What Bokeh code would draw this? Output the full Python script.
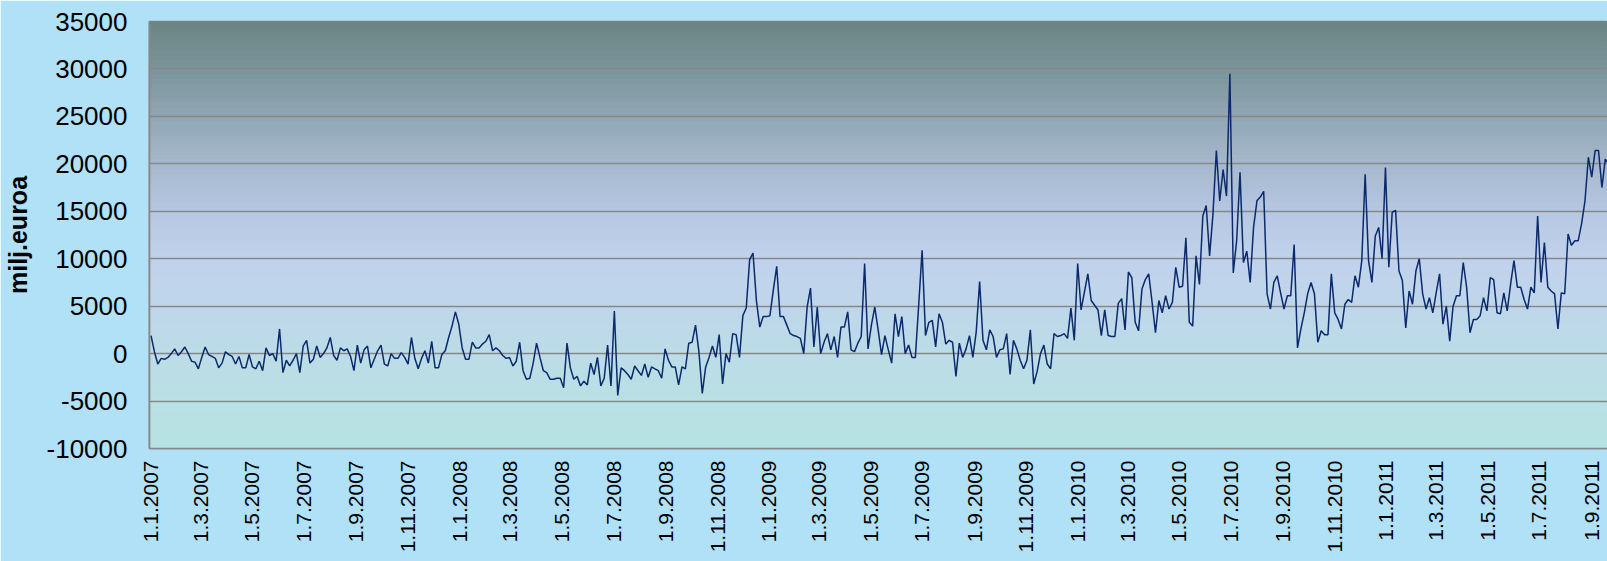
import numpy as np
import pandas as pd
from bokeh.plotting import figure
from bokeh.models import Range1d, FixedTicker, ColumnDataSource
from bokeh.embed import file_html
from bokeh.resources import INLINE

# ---------------- data ----------------
START_DATE = "2007-01-01"
STEP_DAYS = 4
VALUES = [
    # 2007
    1900, 200, -1100, -500, -600, -400, 0, 500, -200, 200,
    700, 0, -800, -900, -1600, -400, 700, -100, -300, -500,
    -1500, -1000, 200, -100, -300, -1100, -300, -1500, -1500, -100,
    -1400, -1600, -800, -1800, 600, -200, 0, -800, 2600, -2000,
    -700, -1300, -700, 0, -2000, 800, 1400, -1000, -600, 800,
    -400, 0, 600, 1700, -200, -700, 600, 300, 500, -300,
    -1800, 900, -1000, 400, 800, -1500, -600, 300, 900, -1100,
    -1300, 0, -500,
    # late 2007 - mid 2008
    -500, 100, -400, -1100, 1700, -500, -1600, -500, 300, -1000,
    1300, -1500, -1500, -100, 300, 1700, 2900, 4400, 3100, 600,
    -600, -600, 1200, 600, 600, 1000, 1300, 2000, 300, 600,
    300, -200, -500, -400, -1300, -800, 1200, -1800, -2700, -2600,
    -1000, 1100, -400, -1800, -2000, -2700, -2700, -2600, -2600, -3600,
    1100, -1500, -2700, -2400, -3400, -2900, -3300, -1000, -2200, -400,
    -3400, -2600, 900, -3400, 4500, -4400, -1500, -1800, -2200, -2700,
    -1300, -1800,
    # mid 2008 - mid 2009
    -2300, -1100, -2500, -1400, -1600, -1800, -2600, 500, -700, -1400,
    -1400, -3300, -1400, -1600, 1100, 1200, 3000, 200, -4200, -1400,
    -400, 800, -400, 2000, -3200, 0, -900, 2100, 2000, -400,
    4000, 4800, 9900, 10600, 5600, 2800, 3900, 3900, 4000, 6700,
    9200, 3900, 3900, 3000, 2100, 1900, 1800, 1600, 0, 4900,
    6900, 700, 4900, 0, 1200, 2100, 400, 1800, -400, 2800,
    2800, 4400, 400, 200, 1100, 1800, 9500, 500, 3000, 4900,
    2500, -100,
    # mid 2009 - spring 2010
    1900, 400, -1000, 4200, 1800, 3900, 0, 900, -400, -400,
    5200, 10900, 1900, 3300, 3500, 700, 4200, 3300, 1000, 1400,
    1200, -2400, 1100, -400, 500, 1900, -400, 2300, 7600, 1400,
    400, 2500, 1800, -400, 400, 500, 2100, -2200, 1400, 500,
    -700, -1600, -700, 2500, -3200, -1900, 0, 900, -1100, -1600,
    2100, 1800, 1900, 2100, 1600, 4800, 1400, 9500, 4600, 6500,
    8400, 5600, 5100, 4600, 1900, 4600, 1900, 1800, 1800, 5300,
    5800, 2500, 8600,
    # spring 2010 - late 2010
    8000, 3300, 2400, 6800, 7800, 8400, 5400, 2200, 5600, 4300,
    6100, 4700, 5400, 9100, 7000, 7100, 12200, 3300, 2900, 10300,
    7300, 14500, 15600, 10300, 14700, 21400, 16100, 19400, 16600, 29500,
    8500, 11900, 19100, 9600, 10800, 7500, 13300, 16100, 16500, 17100,
    6300, 4700, 7500, 8200, 6400, 4700, 6100, 6100, 11500, 600,
    2600, 4300, 6300, 7500, 6300, 1200, 2400, 2000, 2000, 8400,
    4300, 3600, 2600, 5200, 5700, 5400, 8200, 7000, 9800, 18900,
    9800, 7500,
    # late 2010 - Sept 2011
    12400, 13300, 10000, 19600, 9100, 14900, 15100, 8700, 7700, 2700,
    6600, 5200, 8700, 10000, 6300, 4700, 5900, 4300, 6400, 8400,
    3100, 5000, 1300, 5000, 6100, 6100, 9600, 7000, 2200, 3600,
    3600, 4000, 5900, 4500, 8000, 7800, 4300, 4200, 6400, 4500,
    7300, 9800, 7000, 7000, 5700, 4700, 7000, 6400, 14500, 7500,
    11700, 7000, 6600, 6300, 2600, 6400, 6300, 12600, 11400, 11900,
    11900, 13700, 16100, 20700, 18600, 21400, 21400, 17500, 20500, 20000,
]

X_TICK_LABELS = [
    "1.1.2007", "1.3.2007", "1.5.2007", "1.7.2007", "1.9.2007", "1.11.2007",
    "1.1.2008", "1.3.2008", "1.5.2008", "1.7.2008", "1.9.2008", "1.11.2008",
    "1.1.2009", "1.3.2009", "1.5.2009", "1.7.2009", "1.9.2009", "1.11.2009",
    "1.1.2010", "1.3.2010", "1.5.2010", "1.7.2010", "1.9.2010", "1.11.2010",
    "1.1.2011", "1.3.2011", "1.5.2011", "1.7.2011", "1.9.2011",
]
Y_TICKS = [-10000, -5000, 0, 5000, 10000, 15000, 20000, 25000, 30000, 35000]
Y_TICK_LABELS = ["-10000", "-5000", "0", "5000", "10000", "15000", "20000",
                 "25000", "30000", "35000"]
Y_TITLE = "milj.euroa"

# ---------------- build ----------------
FONT = "Liberation Sans"
DAY_MS = 86400000
PX_PER_DAY = 0.8455
FRAME_W = 1458

dates = pd.date_range(START_DATE, periods=len(VALUES), freq=f"{STEP_DAYS}D")
src = ColumnDataSource(dict(x=dates, y=VALUES))


def to_ms(label):
    d, m, y = (int(s) for s in label.split("."))
    return int(pd.Timestamp(year=y, month=m, day=d).value // 10**6)


x_ticks = [to_ms(l) for l in X_TICK_LABELS]
x0 = to_ms(X_TICK_LABELS[0]) - 1.8 * DAY_MS
x1 = x0 + FRAME_W / PX_PER_DAY * DAY_MS

p = figure(width=1607, height=561, x_axis_type="datetime",
           x_range=Range1d(x0, x1), y_range=Range1d(Y_TICKS[0], Y_TICKS[-1]),
           output_backend="svg", toolbar_location=None,
           min_border_left=149, min_border_right=0,
           min_border_top=21, min_border_bottom=113)

p.border_fill_color = "#b1e1f6"
p.background_fill_color = "#bcd8ea"
p.outline_line_color = "#888888"
p.outline_line_width = 1.7

# vertical gradient of the plot area (decoration)
stops_v = [-10000, -5000, 0, 5000, 10000, 15000, 20000, 25000, 30000, 35000]
stops_c = [(0xb6, 0xe2, 0xe3), (0xb9, 0xe0, 0xe4), (0xbc, 0xdc, 0xe7),
           (0xbf, 0xd6, 0xea), (0xc1, 0xd2, 0xec), (0xb6, 0xc7, 0xe2),
           (0xa6, 0xb8, 0xcd), (0x91, 0xa7, 0xb3), (0x7b, 0x94, 0x9a),
           (0x6b, 0x85, 0x84)]
edges = np.linspace(Y_TICKS[0], Y_TICKS[-1], 91)
mids = (edges[:-1] + edges[1:]) / 2
cols = []
for m in mids:
    rgb = [int(round(np.interp(m, stops_v, [c[i] for c in stops_c]))) for i in range(3)]
    cols.append("#%02x%02x%02x" % tuple(rgb))
gsrc = ColumnDataSource(dict(bottom=edges[:-1], top=edges[1:], c=cols))
gr = p.quad(left=x0 - 30 * DAY_MS, right=x1 + 30 * DAY_MS, bottom="bottom", top="top",
            fill_color="c", line_color="c", line_width=1, source=gsrc)
gr.level = "image"

p.line("x", "y", source=src, line_color="#0b2a6b", line_width=1.5)

# grid
p.xgrid.visible = False
p.ygrid.ticker = FixedTicker(ticks=Y_TICKS)
p.ygrid.grid_line_color = "#888888"
p.ygrid.grid_line_width = 1.7

# y axis
ya = p.yaxis[0]
ya.ticker = FixedTicker(ticks=Y_TICKS)
ya.major_label_overrides = {int(t): l for t, l in zip(Y_TICKS, Y_TICK_LABELS)}
ya.axis_line_color = "#888888"
ya.axis_line_width = 1.7
ya.major_tick_line_color = None
ya.minor_tick_line_color = None
ya.major_tick_out = 0
ya.major_tick_in = 0
ya.major_label_standoff = 22
ya.major_label_text_font = FONT
ya.major_label_text_font_size = "26px"
ya.major_label_text_color = "black"
ya.axis_label = Y_TITLE
ya.axis_label_text_font = FONT
ya.axis_label_text_font_size = "25px"
ya.axis_label_text_font_style = "bold"
ya.axis_label_text_color = "black"
ya.axis_label_standoff = 12

# x axis
xa = p.xaxis[0]
xa.ticker = FixedTicker(ticks=x_ticks)
xa.major_label_overrides = {int(t): l for t, l in zip(x_ticks, X_TICK_LABELS)}
xa.major_label_orientation = np.pi / 2
xa.axis_line_color = "#888888"
xa.axis_line_width = 1.7
xa.major_tick_line_color = None
xa.minor_tick_line_color = None
xa.major_tick_out = 0
xa.major_tick_in = 0
xa.major_label_standoff = 12
xa.major_label_text_font = FONT
xa.major_label_text_font_size = "21px"
xa.major_label_text_color = "black"

open("out.html", "w").write(file_html(p, INLINE))
